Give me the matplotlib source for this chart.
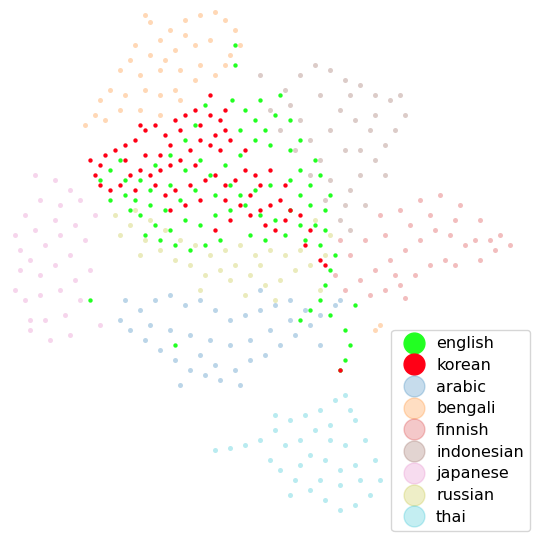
import matplotlib.pyplot as plt
from matplotlib.lines import Line2D

# embedding coordinates (pixel-like units)
bengali = [(145,15),(150,22),(170,30),(185,20),(200,15),(215,12),(225,20),(235,30),(240,45),(230,55),
           (210,40),(195,45),(175,50),(160,40),(150,55),(130,60),(120,70),(140,75),(160,70),(180,70),
           (195,80),(175,90),(160,95),(145,90),(125,95),(110,90),(100,100),(95,115),(85,125),(105,120),
           (120,110),(140,110),(160,115),(180,100),(200,65),(215,75),(225,65),(185,35),(165,60),(135,45),
           (380,325),(375,330)]
indonesian = [(300,75),(315,65),(330,70),(345,80),(360,85),(375,95),(390,100),(400,95),(405,115),(395,130),
              (385,145),(375,160),(360,175),(350,190),(345,205),(340,220),(330,180),(320,160),(310,140),(300,120),
              (290,105),(285,90),(270,110),(280,130),(295,150),(310,175),(325,200),(355,120),(370,130),(340,110),
              (330,130),(345,150),(360,150),(375,115),(385,175),(365,205),(350,230),(260,75),(320,95),(350,95)]
finnish = [(380,215),(400,210),(420,200),(440,195),(460,205),(480,220),(500,235),(510,245),(495,250),(480,260),
           (465,245),(450,235),(435,230),(420,240),(405,250),(390,260),(375,270),(360,280),(345,290),(335,275),
           (350,255),(365,240),(385,235),(410,225),(430,215),(455,220),(475,240),(445,260),(430,265),(415,275),
           (400,285),(385,290),(370,295),(455,265),(490,240),(405,298),(340,240),(395,275)]
japanese = [(35,175),(55,180),(70,190),(80,200),(60,205),(40,200),(25,215),(15,235),(20,250),(30,260),
            (45,245),(60,235),(75,225),(85,240),(70,255),(55,265),(40,275),(20,270),(15,290),(25,300),
            (40,295),(60,290),(75,280),(80,300),(65,315),(45,320),(30,330),(50,340),(70,335),(100,325),
            (55,220),(35,230),(95,215),(30,320),(90,270)]
arabic = [(125,300),(140,310),(155,300),(170,295),(185,305),(200,300),(215,310),(230,320),(245,315),(260,310),
          (275,305),(290,300),(305,310),(320,315),(335,305),(310,325),(295,335),(280,345),(265,355),(250,360),
          (235,370),(220,380),(205,375),(190,370),(175,360),(160,350),(145,340),(130,330),(120,320),(150,325),
          (170,330),(190,335),(210,340),(230,345),(250,340),(270,330),(290,320),(200,355),(215,365),(240,385),
          (320,345),(340,300),(260,290),(180,385)]
russian = [(115,215),(130,225),(145,240),(160,250),(175,260),(190,265),(205,275),(220,270),(235,265),(250,275),
           (265,285),(280,280),(295,270),(310,265),(325,255),(330,235),(315,220),(300,250),(285,255),(270,250),
           (255,255),(240,245),(225,250),(210,255),(195,245),(180,240),(165,230),(150,220),(135,210),(120,235),
           (140,255),(200,290),(245,295),(275,300),(320,290),(230,280),(260,265)]
thai = [(215,450),(230,448),(245,445),(260,440),(275,430),(290,420),(305,415),(320,410),(335,400),(345,395),
        (355,420),(365,440),(375,460),(380,480),(370,495),(355,505),(340,510),(325,500),(310,490),(295,480),
        (280,470),(270,460),(285,445),(300,440),(315,430),(330,425),(345,445),(355,465),(340,470),(325,460),
        (310,455),(300,465),(320,480),(340,485),(360,480),(275,415),(290,495),(350,410),(330,440)]
english = [(235,45),(235,65),(232,100),(245,110),(255,120),(265,130),(275,115),(290,120),(300,140),(290,150),
           (270,145),(255,140),(240,155),(225,165),(210,175),(195,190),(180,200),(165,210),(150,205),(135,200),
           (125,195),(140,215),(155,225),(170,230),(185,220),(200,225),(215,215),(230,210),(245,205),(260,215),
           (275,220),(290,210),(300,195),(310,185),(320,175),(330,195),(325,210),(315,225),(305,240),(320,245),
           (335,255),(330,270),(325,285),(320,300),(310,310),(300,320),(330,315),(345,330),(350,345),(345,360),
           (340,370),(355,305),(290,180),(270,185),(255,190),(240,195),(220,240),(205,245),(190,250),(175,245),
           (160,240),(145,235),(130,210),(110,200),(100,180),(90,300),(175,345),(250,235),(265,240),(285,235),
           (300,225),(310,205),(325,230),(205,105),(195,125),(185,140),(170,155),(155,165),(140,180),(260,100),
           (280,95),(300,170),(315,160),(230,185),(215,195),(170,185),(150,190),(125,180),(110,170),(120,160),
           (185,170),(200,160),(240,130)]
korean = [(90,160),(100,165),(105,155),(115,150),(125,145),(135,140),(145,130),(155,125),(165,135),(175,120),
          (185,115),(195,110),(210,115),(220,120),(225,130),(230,140),(220,150),(210,145),(200,140),(190,150),
          (180,160),(170,165),(160,170),(150,175),(140,170),(130,175),(120,185),(110,190),(100,185),(95,175),
          (155,185),(165,195),(175,190),(190,185),(205,180),(215,175),(225,185),(235,180),(245,170),(255,175),
          (260,185),(250,195),(240,205),(250,215),(260,210),(270,205),(280,200),(290,210),(285,220),(275,230),
          (265,225),(300,215),(310,230),(305,245),(320,260),(325,265),(200,200),(185,205),(170,210),(225,200),
          (195,165),(215,135),(160,155),(145,155),(125,160),(210,95),(225,110),(200,125),(180,130),(135,190),
          (245,150),(270,170),(285,185),(340,370),(230,220),(215,230),(140,125),(170,145)]

faint = [('arabic', arabic, 'tab:blue'), ('bengali', bengali, 'tab:orange'),
         ('finnish', finnish, 'tab:red'), ('indonesian', indonesian, 'tab:brown'),
         ('japanese', japanese, 'tab:pink'), ('russian', russian, 'tab:olive'),
         ('thai', thai, 'tab:cyan')]
bold = [('english', english, '#22ff22'), ('korean', korean, '#ff0016')]

fig = plt.figure(figsize=(5.35, 5.36), dpi=100)
ax = fig.add_axes([0, 0, 1, 1])

for name, pts, c in faint:
    xs, ys = zip(*pts)
    ax.scatter(xs, ys, s=13, color=c, alpha=0.3, lw=0)
for name, pts, c in bold:
    xs, ys = zip(*pts)
    ax.scatter(xs, ys, s=10, color=c, lw=0)

handles = [Line2D([], [], ls='', marker='o', ms=15, color=c, label=n) for n, _, c in bold]
handles += [Line2D([], [], ls='', marker='o', ms=15, color=c, alpha=0.25, label=n) for n, _, c in faint]
ax.legend(handles=handles, loc='lower right', fontsize=11.5, handletextpad=0.4,
          labelspacing=0.42, borderaxespad=0.3)

ax.set_xlim(0, 535)
ax.set_ylim(536, 0)
ax.axis('off')
plt.savefig('out.png', dpi=100)
